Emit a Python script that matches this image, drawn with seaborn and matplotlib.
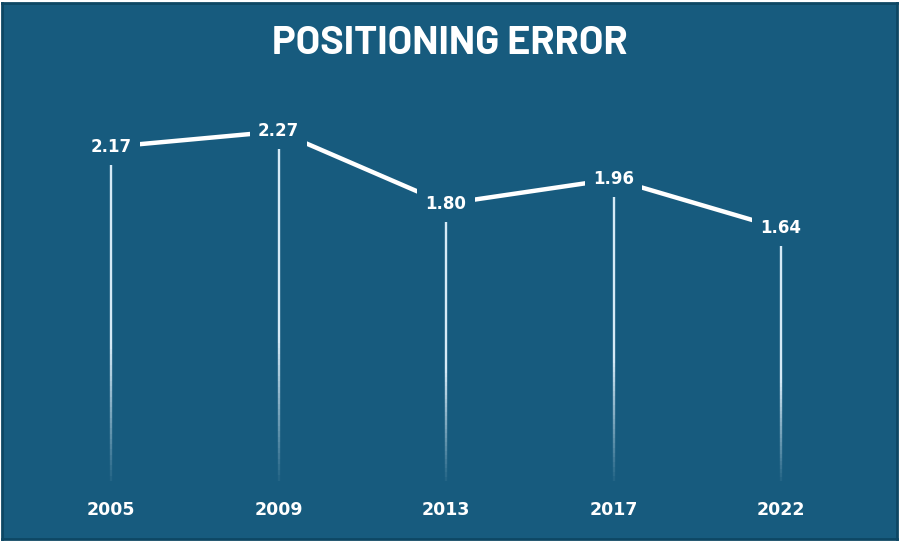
import numpy as np
import pandas as pd
import matplotlib
matplotlib.use('Agg')
import matplotlib.pyplot as plt
import seaborn as sns

# data
years = ["2005", "2009", "2013", "2017", "2022"]
errors = [2.17, 2.27, 1.80, 1.96, 1.64]
title = "POSITIONING ERROR"

BG = "#175b7e"
EDGE = "#0e4764"

df = pd.DataFrame({"year": years, "error": errors})

sns.set_theme(style="white")
plt.rcParams['font.family'] = ['DejaVu Sans']

fig = plt.figure(figsize=(9, 5.43), dpi=100, facecolor="white")
ax = fig.add_axes([2 / 900, 4 / 543, 895 / 900, 536 / 543])
ax.set_facecolor(BG)

# droplines, fading towards the bottom
n_seg = 60
for i, v in enumerate(errors):
    top = v - 0.115
    edges = np.linspace(0, top, n_seg + 1)
    for k in range(n_seg):
        frac = (k + 0.5) / n_seg
        alpha = min(1.0, 0.05 + frac / 0.45)
        ax.vlines(i, edges[k], edges[k + 1], color="#d6eaf6", lw=1.7, alpha=alpha, zorder=1)

sns.lineplot(data=df, x="year", y="error", color="white", lw=3.2, ax=ax, zorder=2,
             sort=False, legend=False)

for i, v in enumerate(errors):
    ax.text(i, v, f"{v:.2f}", ha="center", va="center", color="white", fontsize=12,
            fontweight="bold", zorder=3,
            bbox=dict(boxstyle="square,pad=0.5", fc=BG, ec="none"))
    ax.text(i, -0.188, years[i], ha="center", va="center", color="white", fontsize=12.5,
            fontweight="bold", zorder=3)

ax.set_xlim(-109 / 167.5, (897 - 111) / 167.5)
ax.set_ylim(-(539 - 481) / 154, (481 - 3) / 154)
ax.set_xticks([])
ax.set_yticks([])
ax.set_xlabel("")
ax.set_ylabel("")
for s in ax.spines.values():
    s.set_visible(True)
    s.set_color(EDGE)
    s.set_linewidth(2)

fig.text(0.5, 1 - 43 / 543, title, ha="center", va="center", color="white",
         fontsize=28.5, fontweight="bold",
         family=['Barlow', 'Barlow Semi Condensed', 'DejaVu Sans'])

fig.savefig("out.png", dpi=100, facecolor="white")
